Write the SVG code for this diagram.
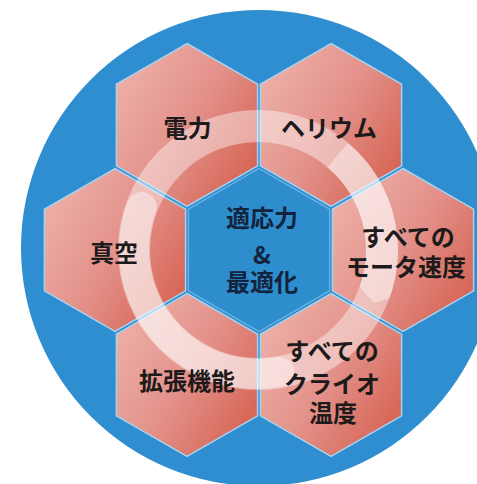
<svg xmlns="http://www.w3.org/2000/svg" width="477" height="484" viewBox="0 0 477 484">
  <style>
    .lbl { font-family: "Noto Sans CJK JP", "Noto Sans", sans-serif; font-size: 24px; font-weight: 700; fill: #1c1a1a; text-anchor: middle; }
    .ctr { fill: #13233d; }
    .hexp { fill: url(#pink); stroke: #a9d2ef; stroke-width: 1.5; }
    .hexb { fill: #2e8dcd; stroke: #6fb4e3; stroke-width: 1.2; }
  </style>
  <defs>
    <linearGradient id="pink" x1="0" y1="0.15" x2="1" y2="0.85">
      <stop offset="0" stop-color="#edb2aa"/>
      <stop offset="0.5" stop-color="#e3918a"/>
      <stop offset="1" stop-color="#d5604f"/>
    </linearGradient>
    <polygon id="hex" points="0,-81.5 70.6,-40.8 70.6,40.8 0,81.5 -70.6,40.8 -70.6,-40.8"/>
  </defs>
  <rect width="477" height="484" fill="#ffffff"/>
  <circle cx="259" cy="248" r="238" fill="#2f8ecf"/>

  <g id="node-center">
    <use href="#hex" x="259" y="250" class="hexb"/>
  </g>
  <g id="node-power">
    <use href="#hex" x="187" y="125" class="hexp"/>
  </g>
  <g id="node-helium">
    <use href="#hex" x="331" y="125" class="hexp"/>
  </g>
  <g id="node-vacuum">
    <use href="#hex" x="115" y="250" class="hexp"/>
  </g>
  <g id="node-motor">
    <use href="#hex" x="403" y="250" class="hexp"/>
  </g>
  <g id="node-expansion">
    <use href="#hex" x="187" y="375" class="hexp"/>
  </g>
  <g id="node-cryo">
    <use href="#hex" x="331" y="375" class="hexp"/>
  </g>

  <g id="connectors">
    <circle cx="258" cy="250" r="124" fill="none" stroke="#ffffff" stroke-opacity="0.42" stroke-width="32"/>
    <path d="M141.7,207 A124,124 0 0 0 279.5,372" fill="none" stroke="#ffffff" stroke-opacity="0.4" stroke-width="30" stroke-linecap="round"/>
    <path d="M348,143 A140,140 0 0 1 389.6,297.9 L374,303 L359.6,287 A108,108 0 0 0 327.4,167.3 Z" fill="#ffffff" fill-opacity="0.4"/>
  </g>

  <g id="labels">
    <text class="lbl" x="187.5" y="137">電力</text>
    <text class="lbl" x="329" y="137">ヘリウム</text>
    <text class="lbl" x="114" y="262">真空</text>
    <text class="lbl ctr" x="262" y="227">適応力</text>
    <text class="lbl ctr" x="262" y="264">&amp;</text>
    <text class="lbl ctr" x="262" y="291">最適化</text>
    <text class="lbl" x="408" y="246">すべての</text>
    <text class="lbl" x="406" y="276">モータ速度</text>
    <text class="lbl" x="332" y="360">すべての</text>
    <text class="lbl" x="332" y="393">クライオ</text>
    <text class="lbl" x="333" y="422">温度</text>
    <text class="lbl" x="187" y="390">拡張機能</text>
  </g>
</svg>
